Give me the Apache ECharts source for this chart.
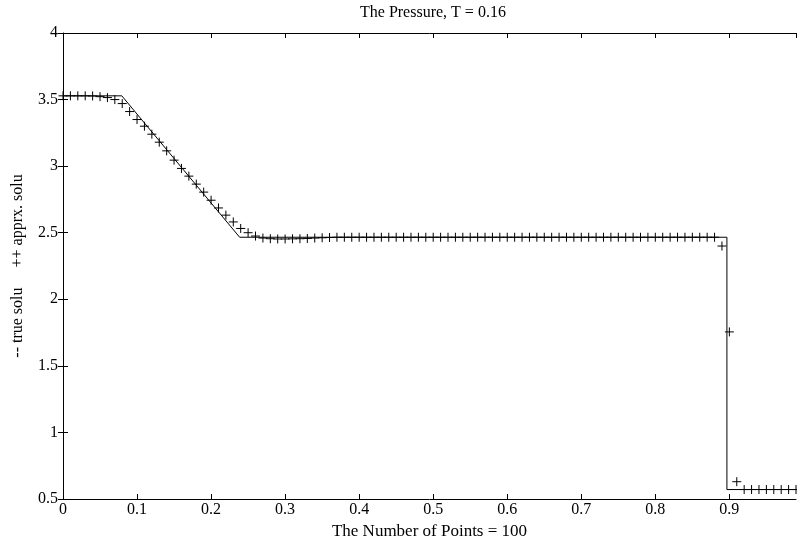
<!DOCTYPE html>
<html>
<head>
<meta charset="utf-8" />
<title>The Pressure</title>
<script src="https://cdn.jsdelivr.net/npm/echarts@6/dist/echarts.min.js"></script>
<style>
  html, body { margin: 0; padding: 0; background: #fff; }
  #chart { width: 797px; height: 537px; }
</style>
</head>
<body>
<div id="chart"></div>
<script>
// exact solution (breakpoints)
var trueX = [0, 0.0794, 0.2386, 0.8967, 0.8967, 0.99];
var trueP = [3.528, 3.528, 2.466, 2.466, 0.571, 0.571];

// approximate solution, one value per grid point (100 points, dx = 0.01)
var apprxP = [
  3.528, 3.528, 3.528, 3.528, 3.527, 3.522, 3.515, 3.50, 3.47, 3.41,
  3.35, 3.30, 3.24, 3.18, 3.115, 3.045, 2.983, 2.925, 2.865, 2.805,
  2.744, 2.686, 2.632, 2.581, 2.532, 2.50, 2.475, 2.46, 2.455, 2.453,
  2.453, 2.454, 2.455, 2.457, 2.46, 2.462, 2.464, 2.466, 2.466, 2.466,
  2.466, 2.466, 2.466, 2.466, 2.466, 2.466, 2.466, 2.466, 2.466, 2.466,
  2.466, 2.466, 2.466, 2.466, 2.466, 2.466, 2.466, 2.466, 2.466, 2.466,
  2.466, 2.466, 2.466, 2.466, 2.466, 2.466, 2.466, 2.466, 2.466, 2.466,
  2.466, 2.466, 2.466, 2.466, 2.466, 2.466, 2.466, 2.466, 2.466, 2.466,
  2.466, 2.466, 2.466, 2.466, 2.466, 2.466, 2.466, 2.466, 2.466, 2.40,
  1.755, 0.63, 0.571, 0.571, 0.571, 0.571, 0.571, 0.571, 0.571, 0.571
];

var titleText = 'The Pressure, T = 0.16';
var xName = 'The Number of Points = 100';
var yName = '-- true solu     ++ apprx. solu';

var font = 'Liberation Serif';

var trueData = trueX.map(function (x, i) { return [x, trueP[i]]; });
var apprxData = apprxP.map(function (p, i) { return [i / 100, p]; });

var chart = echarts.init(document.getElementById('chart'), null, {renderer: 'canvas'});

function ticks() {
  return {show: true, inside: true, length: 5, lineStyle: {color: '#000', width: 1}};
}

chart.setOption({
  animation: false,
  backgroundColor: '#fff',
  title: {
    text: titleText,
    left: 355,
    top: 0,
    textStyle: {fontFamily: font, fontSize: 16, fontWeight: 'normal', color: '#000'}
  },
  grid: {left: 63, right: 1, top: 33, bottom: 38, containLabel: false, outerBoundsMode: 'none'},
  xAxis: [{
    type: 'value', min: 0, max: 0.99, interval: 0.1,
    position: 'bottom',
    name: xName, nameLocation: 'middle', nameGap: 18,
    nameTextStyle: {fontFamily: font, fontSize: 17, color: '#000'},
    axisLine: {show: true, lineStyle: {color: '#000', width: 1}},
    axisTick: ticks(),
    axisLabel: {fontFamily: font, fontSize: 16, color: '#000', margin: 3, showMaxLabel: false},
    splitLine: {show: false}
  }, {
    type: 'value', min: 0, max: 0.99, interval: 0.1,
    position: 'top',
    axisLine: {show: true, lineStyle: {color: '#000', width: 1}},
    axisTick: ticks(),
    axisLabel: {show: false},
    splitLine: {show: false}
  }],
  yAxis: [{
    type: 'value', min: 0.5, max: 4, interval: 0.5,
    position: 'left',
    name: yName, nameLocation: 'middle', nameRotate: 90, nameGap: 37,
    nameTextStyle: {fontFamily: font, fontSize: 16, color: '#000'},
    axisLine: {show: true, lineStyle: {color: '#000', width: 1}},
    axisTick: ticks(),
    axisLabel: {fontFamily: font, fontSize: 16, color: '#000', margin: 5},
    splitLine: {show: false}
  }, {
    type: 'value', min: 0.5, max: 4, interval: 0.5,
    position: 'right',
    axisLine: {show: true, lineStyle: {color: '#000', width: 1, opacity: 0}},
    axisTick: ticks(),
    axisLabel: {show: false},
    splitLine: {show: false}
  }],
  series: [{
    name: 'true solu',
    type: 'line',
    data: trueData,
    showSymbol: false,
    symbol: 'none',
    lineStyle: {color: '#000', width: 1},
    z: 2
  }, {
    name: 'apprx. solu',
    type: 'scatter',
    data: apprxData,
    symbol: 'path://M0,5L10,5M5,0L5,10',
    symbolSize: 9,
    itemStyle: {color: 'none', borderColor: '#000', borderWidth: 1, opacity: 1},
    z: 3
  }]
});
</script>
</body>
</html>
